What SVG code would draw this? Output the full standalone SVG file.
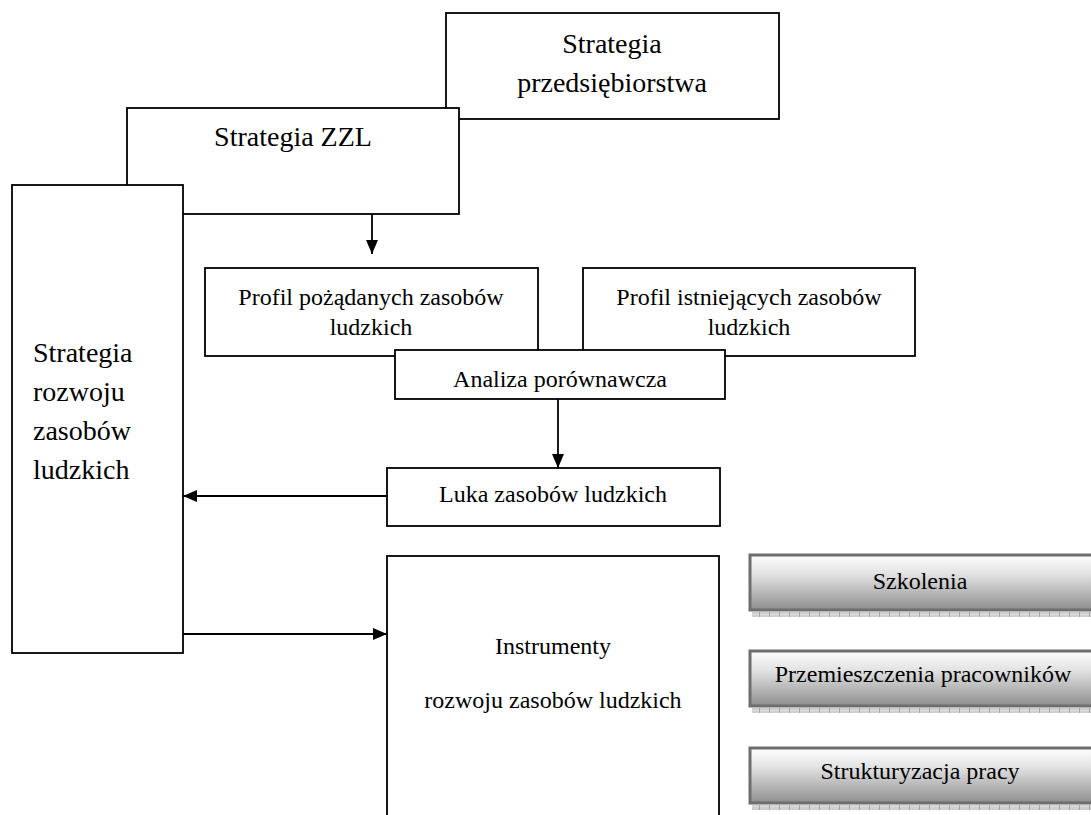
<svg xmlns="http://www.w3.org/2000/svg" width="1091" height="815" viewBox="0 0 1091 815">
  <defs>
    <style>
      .box { fill: #ffffff; stroke: #000000; stroke-width: 1.8; }
      .big { font-family: "Liberation Serif", "Times New Roman", serif; font-size: 28px; fill: #000; }
      .txt { font-family: "Liberation Serif", "Times New Roman", serif; font-size: 24px; fill: #000; }
      .mid { text-anchor: middle; }
      .link { fill: none; stroke: #000; stroke-width: 1.8; }
      .tool { fill: url(#toolFill); stroke: #6e6e6e; stroke-width: 3; }
      .shadow { fill: url(#shadowTile); }
    </style>
    <linearGradient id="toolFill" x1="0" y1="0" x2="0" y2="1">
      <stop offset="0" stop-color="#ffffff"/>
      <stop offset="0.35" stop-color="#e2e2e2"/>
      <stop offset="1" stop-color="#8e8e8e"/>
    </linearGradient>
    <pattern id="shadowTile" x="0" y="0" width="10" height="6" patternUnits="userSpaceOnUse">
      <rect width="10" height="6" fill="#cfcfcf"/>
      <rect x="9" width="1" height="6" fill="#a8a8a8"/>
      <rect y="2" width="9" height="1" fill="#dedede"/>
    </pattern>
    <marker id="head" viewBox="0 0 14 12" refX="14" refY="6" markerWidth="14" markerHeight="12" markerUnits="userSpaceOnUse" orient="auto">
      <path d="M0,0 L14,6 L0,12 Z" fill="#000"/>
    </marker>
  </defs>

  <!-- stacked strategy boxes: each one partly covers the one behind it -->
  <g id="strategia-przedsiebiorstwa">
    <rect class="box" x="446" y="13" width="333" height="106"/>
    <text class="big mid" x="612" y="53">Strategia</text>
    <text class="big mid" x="612" y="92">przedsiębiorstwa</text>
  </g>
  <g id="strategia-zzl">
    <rect class="box" x="127" y="108" width="332" height="106"/>
    <text class="big mid" x="293" y="146">Strategia ZZL</text>
  </g>
  <g id="strategia-rozwoju">
    <rect class="box" x="12" y="185" width="171" height="468"/>
    <text class="big" x="33" y="362">Strategia</text>
    <text class="big" x="33" y="401">rozwoju</text>
    <text class="big" x="33" y="440">zasobów</text>
    <text class="big" x="33" y="479">ludzkich</text>
  </g>

  <!-- resource profiles and their comparison -->
  <g id="profil-pozadanych">
    <rect class="box" x="205" y="268" width="333" height="88"/>
    <text class="txt mid" x="371" y="305">Profil pożądanych zasobów</text>
    <text class="txt mid" x="371" y="335">ludzkich</text>
  </g>
  <g id="profil-istniejacych">
    <rect class="box" x="583" y="268" width="332" height="88"/>
    <text class="txt mid" x="749" y="305">Profil istniejących zasobów</text>
    <text class="txt mid" x="749" y="335">ludzkich</text>
  </g>
  <g id="analiza">
    <rect class="box" x="395" y="350" width="330" height="49"/>
    <text class="txt mid" x="560" y="387">Analiza porównawcza</text>
  </g>
  <g id="luka">
    <rect class="box" x="387" y="468" width="333" height="58"/>
    <text class="txt mid" x="553" y="502">Luka zasobów ludzkich</text>
  </g>
  <g id="instrumenty">
    <rect class="box" x="387" y="556" width="332" height="270"/>
    <text class="txt mid" x="553" y="654">Instrumenty</text>
    <text class="txt mid" x="553" y="708">rozwoju zasobów ludzkich</text>
  </g>

  <!-- development instruments -->
  <g id="szkolenia">
    <rect class="shadow" x="752" y="612" width="339" height="5"/>
    <rect class="tool" x="750" y="555" width="345" height="55"/>
    <text class="txt mid" x="920" y="589">Szkolenia</text>
  </g>
  <g id="przemieszczenia">
    <rect class="shadow" x="752" y="708" width="339" height="5"/>
    <rect class="tool" x="750" y="651" width="345" height="55"/>
    <text class="txt mid" x="923" y="682">Przemieszczenia pracowników</text>
  </g>
  <g id="strukturyzacja">
    <rect class="shadow" x="752" y="805" width="339" height="5"/>
    <rect class="tool" x="750" y="748" width="345" height="55"/>
    <text class="txt mid" x="920" y="779">Strukturyzacja pracy</text>
  </g>

  <!-- connectors -->
  <g id="connectors">
    <line class="link" x1="372" y1="214" x2="372" y2="254" marker-end="url(#head)"/>
    <line class="link" x1="558" y1="399" x2="558" y2="468" marker-end="url(#head)"/>
    <line class="link" x1="387" y1="496" x2="183" y2="496" marker-end="url(#head)"/>
    <line class="link" x1="183" y1="634" x2="387" y2="634" marker-end="url(#head)"/>
  </g>
</svg>
